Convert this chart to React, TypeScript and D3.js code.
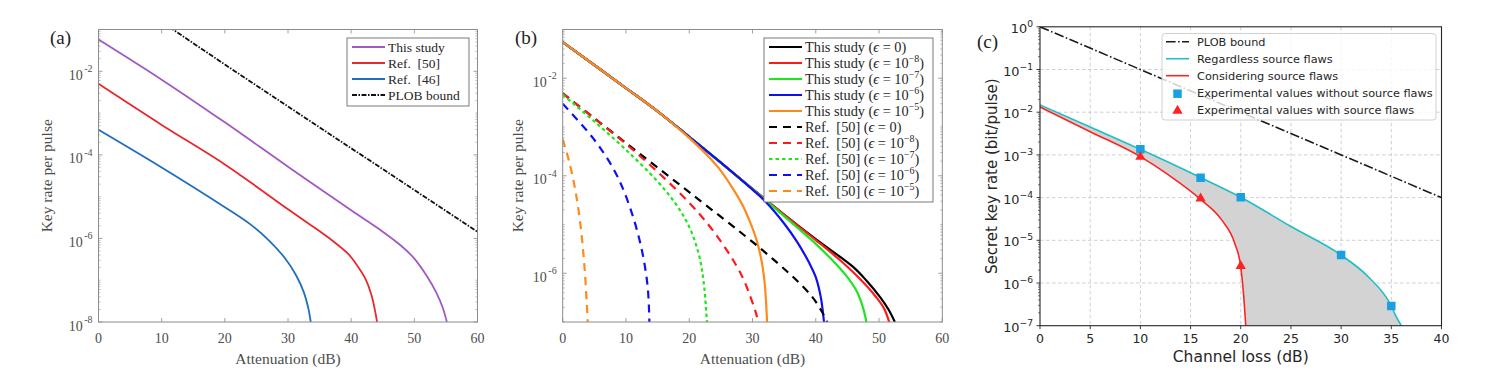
import React from "react";
import * as d3 from "d3";

type Pt = [number, number];

// ---------- (a) key rate per pulse vs attenuation ----------
const aThisStudy: Pt[] = [[0, 5.75e-2], [10, 6.3e-3], [20, 6.0e-4], [30, 5.2e-5], [40, 4.7e-6], [45, 1.45e-6], [48, 6.5e-7], [50, 3.3e-7], [52, 1.25e-7], [53.5, 5.0e-8], [54.5, 2.2e-8], [55.15, 1e-8]];
const aRef50: Pt[] = [[0, 5.0e-3], [10, 5.2e-4], [20, 5.9e-5], [30, 5.0e-6], [34, 1.9e-6], [37, 8.9e-7], [39.5, 4.3e-7], [41, 2.2e-7], [42.3, 1.05e-7], [43.2, 4.5e-8], [43.8, 1.8e-8], [44.1, 1e-8]];
const aRef46: Pt[] = [[0, 4.0e-4], [10, 5.0e-5], [20, 5.6e-6], [24, 2.2e-6], [27, 8.9e-7], [29.5, 3.4e-7], [31.3, 1.3e-7], [32.5, 5.2e-8], [33.2, 2.2e-8], [33.6, 1e-8]];
const aPlob: Pt[] = [[10, 1.52e-1], [20, 1.45e-2], [30, 1.44e-3], [40, 1.44e-4], [50, 1.44e-5], [60, 1.44e-6]];
const aLegend = ["This study", "Ref.\u2002[50]", "Ref.\u2002[46]", "PLOB bound"];

// ---------- (b) This study vs Ref. [50] for several epsilon ----------
const bStudyE0: Pt[] = [[0, 5.5e-2], [10, 6.3e-3], [15, 2.1e-3], [20, 6.3e-4], [25, 1.86e-4], [30, 5.4e-5], [35, 1.6e-5], [40, 5.0e-6], [45.9, 1.35e-6], [48, 7.1e-7], [50.2, 3.2e-7], [51.5, 1.8e-7], [52.5, 1e-7]];
const bStudyE8: Pt[] = [[0, 5.5e-2], [10, 6.3e-3], [15, 2.1e-3], [20, 6.3e-4], [25, 1.86e-4], [30, 5.4e-5], [35, 1.58e-5], [40, 4.8e-6], [44, 1.78e-6], [47, 7.6e-7], [49.5, 3.3e-7], [50.8, 1.9e-7], [51.6, 1e-7]];
const bStudyE7: Pt[] = [[0, 5.5e-2], [10, 6.3e-3], [15, 2.1e-3], [20, 6.3e-4], [25, 1.86e-4], [30, 5.3e-5], [32, 3.2e-5], [35, 1.48e-5], [40, 4.0e-6], [43.3, 1.5e-6], [45, 8.3e-7], [46.5, 4.2e-7], [47.5, 1.9e-7], [48, 1e-7]];
const bStudyE6: Pt[] = [[0, 5.5e-2], [10, 6.3e-3], [15, 2.1e-3], [20, 6.3e-4], [25, 1.86e-4], [30, 5.2e-5], [32, 3.0e-5], [35, 1.05e-5], [37, 4.5e-6], [39, 1.6e-6], [40, 8.3e-7], [40.8, 3.2e-7], [41.3, 1e-7]];
const bStudyE5: Pt[] = [[0, 5.5e-2], [10, 6.3e-3], [15, 2.1e-3], [20, 6.0e-4], [23, 2.5e-4], [25, 1.26e-4], [27, 5.2e-5], [28.5, 2.4e-5], [29.7, 1.05e-5], [30.6, 5.0e-6], [31.3, 2.2e-6], [31.8, 8.9e-7], [32.1, 3.2e-7], [32.3, 1e-7]];
const bRefE0: Pt[] = [[0, 4.9e-3], [10, 4.7e-4], [20, 4.6e-5], [30, 4.4e-6], [34, 1.6e-6], [37, 7.1e-7], [39.5, 3.2e-7], [41, 1.6e-7], [41.8, 1e-7]];
const bRefE8: Pt[] = [[0, 4.9e-3], [5, 1.5e-3], [10, 4.5e-4], [15, 1.2e-4], [20, 2.8e-5], [23, 1.0e-5], [25, 4.5e-6], [27, 1.8e-6], [28.5, 7.9e-7], [29.7, 3.2e-7], [30.5, 1.6e-7], [30.9, 1e-7]];
const bRefE7: Pt[] = [[0, 4.6e-3], [5, 1.3e-3], [10, 3.4e-4], [15, 7.6e-5], [18, 2.5e-5], [20, 8.9e-6], [21.5, 2.5e-6], [22.3, 6.3e-7], [22.8, 1e-7]];
const bRefE6: Pt[] = [[0, 3.0e-3], [4.8, 5.9e-4], [8, 1.4e-4], [10.1, 3.5e-5], [12.2, 4.5e-6], [13.4, 5.8e-7], [13.7, 1e-7]];
const bRefE5: Pt[] = [[0, 5.6e-4], [1, 2.0e-4], [2, 5.0e-5], [2.8, 1.0e-5], [3.4, 1.6e-6], [3.8, 2.5e-7], [3.95, 1e-7]];
const bEpsExps = [0, -8, -7, -6, -5];

// ---------- (c) secret key rate vs channel loss ----------
const cPlob: Pt[] = [[0, 1], [10, 1e-1], [20, 1e-2], [30, 1e-3], [40, 1e-4]];
const cRegardless: Pt[] = [[0, 1.48e-2], [5, 4.5e-3], [10, 1.35e-3], [16, 2.95e-4], [20, 1.02e-4], [25, 2.1e-5], [30, 4.5e-6], [32.7, 1.4e-6], [35, 2.9e-7], [35.5, 1.6e-7], [36.0, 1e-7]];
const cConsidering: Pt[] = [[0, 1.32e-2], [5, 3.5e-3], [10, 9.1e-4], [12.8, 3.4e-4], [16, 9.1e-5], [18.1, 3.0e-5], [19.4, 8.5e-6], [20, 2.4e-6], [20.3, 4.8e-7], [20.5, 1e-7]];
const cExpWithout: Pt[] = [[10, 1.35e-3], [16, 2.9e-4], [20, 1.02e-4], [30, 4.5e-6], [35, 2.9e-7]];
const cExpWith: Pt[] = [[10, 9.0e-4], [16, 9.5e-5], [20, 2.5e-6]];
const cLegend = ["PLOB bound", "Regardless source flaws", "Considering source flaws", "Experimental values without source flaws", "Experimental values with source flaws"];

const attTicks = [0, 10, 20, 30, 40, 50, 60];
const lossTicks = [0, 5, 10, 15, 20, 25, 30, 35, 40];

const serif = "'Liberation Serif', 'Times New Roman', serif";
const sans = "'DejaVu Sans', sans-serif";

interface Curve {
  pts: Pt[];
  color: string;
  width: number;
  dash?: string;
  straight?: boolean;
}

function minorLogTicks(lo: number, hi: number, major: number[]) {
  const out: number[] = [];
  for (let k = Math.floor(Math.log10(lo)); k <= Math.ceil(Math.log10(hi)); k++) {
    for (let m = 1; m <= 9; m++) {
      const v = m * Math.pow(10, k);
      if (v < lo * 0.999 || v > hi * 1.001) continue;
      if (m === 1 && major.includes(k)) continue;
      out.push(v);
    }
  }
  return out;
}

interface MatlabProps {
  id: string;
  left: number;
  right: number;
  top: number;
  bottom: number;
  yDomain: [number, number];
  yMajor: number[];
  curves: Curve[];
  legendX: number;
  legendW: number;
  legendFont: number;
  labels: React.ReactNode[];
  tag: string;
  tagX: number;
  yLabelX: number;
}

const MatlabPanel: React.FC<MatlabProps> = (p) => {
  const x = d3.scaleLinear().domain([0, 60]).range([p.left, p.right]);
  const y = d3.scaleLog().domain(p.yDomain).range([p.bottom, p.top]);
  const smooth = d3.line<Pt>().x((d) => x(d[0])).y((d) => y(d[1])).curve(d3.curveCatmullRom.alpha(0.5));
  const straight = d3.line<Pt>().x((d) => x(d[0])).y((d) => y(d[1]));
  const minors = minorLogTicks(p.yDomain[0], p.yDomain[1], p.yMajor);
  const frameC = "#8c8c8c";
  const textC = "#4d4d4d";
  const legTop = 38;
  const rowH = 16;
  const legH = p.labels.length * rowH + 4;

  return (
    <g>
      <defs>
        <clipPath id={p.id}>
          <rect x={p.left} y={p.top} width={p.right - p.left} height={p.bottom - p.top} />
        </clipPath>
      </defs>
      <rect x={p.left} y={p.top} width={p.right - p.left} height={p.bottom - p.top} fill="#fff" />
      <g clipPath={`url(#${p.id})`}>
        {p.curves.map((c, i) => (
          <path
            key={i}
            d={(c.straight ? straight : smooth)(c.pts) || ""}
            fill="none"
            stroke={c.color}
            strokeWidth={c.width}
            strokeDasharray={c.dash}
          />
        ))}
      </g>
      {/* ticks */}
      {attTicks.map((t) => (
        <g key={t} stroke={frameC} strokeWidth={0.8}>
          <line x1={x(t)} x2={x(t)} y1={p.bottom} y2={p.bottom - 4} />
          <line x1={x(t)} x2={x(t)} y1={p.top} y2={p.top + 4} />
        </g>
      ))}
      {p.yMajor.map((k) => (
        <g key={k} stroke={frameC} strokeWidth={0.8}>
          <line x1={p.left} x2={p.left + 4} y1={y(Math.pow(10, k))} y2={y(Math.pow(10, k))} />
          <line x1={p.right} x2={p.right - 4} y1={y(Math.pow(10, k))} y2={y(Math.pow(10, k))} />
        </g>
      ))}
      {minors.map((v, i) => (
        <g key={i} stroke={frameC} strokeWidth={0.6}>
          <line x1={p.left} x2={p.left + 2} y1={y(v)} y2={y(v)} />
          <line x1={p.right} x2={p.right - 2} y1={y(v)} y2={y(v)} />
        </g>
      ))}
      <rect x={p.left} y={p.top} width={p.right - p.left} height={p.bottom - p.top} fill="none" stroke={frameC} strokeWidth={1} />
      {/* tick labels */}
      <g fontFamily={serif} fill={textC}>
        {attTicks.map((t) => (
          <text key={t} x={x(t)} y={p.bottom + 21} textAnchor="middle" fontSize={14}>
            {t}
          </text>
        ))}
        {p.yMajor.map((k) => (
          <text key={k} x={p.left - 6} y={y(Math.pow(10, k)) + 8.5} textAnchor="end" fontSize={14}>
            10
            <tspan dx={1.5} dy={-7.5} fontSize={10}>{`-${-k}`}</tspan>
          </text>
        ))}
        <text x={(p.left + p.right) / 2} y={p.bottom + 42} textAnchor="middle" fontSize={15.5}>
          Attenuation (dB)
        </text>
        <text transform={`translate(${p.yLabelX},${(p.top + p.bottom) / 2}) rotate(-90)`} textAnchor="middle" fontSize={15.5}>
          Key rate per pulse
        </text>
        <text x={p.tagX} y={44} fontSize={19} fill="#222">
          {p.tag}
        </text>
      </g>
      {/* legend */}
      <rect x={p.legendX} y={legTop} width={p.legendW} height={legH} fill="#fff" stroke="#7a7a7a" strokeWidth={1} />
      {p.labels.map((lab, i) => {
        const c = p.curves[i];
        const ly = legTop + 9 + i * rowH;
        return (
          <g key={i}>
            <line x1={p.legendX + 5} x2={p.legendX + 38} y1={ly} y2={ly} stroke={c.color} strokeWidth={c.width} strokeDasharray={c.dash} />
            <text x={p.legendX + 41} y={ly + 4.5} fontFamily={serif} fontSize={p.legendFont} fill="#262626">
              {lab}
            </text>
          </g>
        );
      })}
    </g>
  );
};

const epsLabel = (prefix: string, k: number) =>
  k === 0 ? (
    <>
      {prefix} (<tspan fontStyle="italic">ϵ</tspan> = 0)
    </>
  ) : (
    <>
      {prefix} (<tspan fontStyle="italic">ϵ</tspan> = 10
      <tspan dy={-6} fontSize={10}>{`−${-k}`}</tspan>
      <tspan dy={6}>)</tspan>
    </>
  );

const PanelA = () => {
  const curves: Curve[] = [
    { pts: aThisStudy, color: "#a05ac2", width: 1.8 },
    { pts: aRef50, color: "#e8282c", width: 1.8 },
    { pts: aRef46, color: "#1f6fbf", width: 1.8 },
    { pts: aPlob, color: "#111", width: 1.8, dash: "5,1.5,1.5,1.5", straight: true },
  ];
  return (
    <MatlabPanel
      id="clipA"
      left={98.5}
      right={477.5}
      top={29.5}
      bottom={322}
      yDomain={[1e-8, 1e-1]}
      yMajor={[-8, -6, -4, -2]}
      curves={curves}
      legendX={347}
      legendW={122}
      legendFont={13.5}
      labels={aLegend}
      tag="(a)"
      tagX={50}
      yLabelX={52}
    />
  );
};

const PanelB = () => {
  const colors = ["#000000", "#ff1a1a", "#1ee61e", "#1010f0", "#ff8a1c"];
  const solid = [bStudyE0, bStudyE8, bStudyE7, bStudyE6, bStudyE5];
  const dashed = [bRefE0, bRefE8, bRefE7, bRefE6, bRefE5];
  const curves: Curve[] = [
    ...solid.map((pts, i) => ({ pts, color: colors[i], width: 2.2 })),
    ...dashed.map((pts, i) => ({ pts, color: colors[i], width: 2.2, dash: i === 2 ? "3.5,3" : "8,6" })),
  ];
  const labels = [
    ...bEpsExps.map((k) => epsLabel("This study", k)),
    ...bEpsExps.map((k) => epsLabel("Ref.\u2002[50]", k)),
  ];
  return (
    <MatlabPanel
      id="clipB"
      left={562.7}
      right={942.3}
      top={29.5}
      bottom={322}
      yDomain={[1e-7, 1e-1]}
      yMajor={[-6, -4, -2]}
      curves={curves}
      legendX={764}
      legendW={169}
      legendFont={14.3}
      labels={labels}
      tag="(b)"
      tagX={515}
      yLabelX={522.5}
    />
  );
};

const PanelC = () => {
  const left = 1040;
  const right = 1441.5;
  const top = 26.8;
  const bottom = 325.7;
  const x = d3.scaleLinear().domain([0, 40]).range([left, right]);
  const y = d3.scaleLog().domain([1e-7, 1]).range([bottom, top]);
  const smooth = d3.line<Pt>().x((d) => x(d[0])).y((d) => y(d[1])).curve(d3.curveMonotoneX);
  const straight = d3.line<Pt>().x((d) => x(d[0])).y((d) => y(d[1]));
  const yExps = [0, -1, -2, -3, -4, -5, -6, -7];
  const minors = minorLogTicks(1e-7, 1, yExps);
  const cyan = "#1cbfc6";
  const red = "#f22";
  const sq = "#1a9fe3";
  const square = d3.symbol().type(d3.symbolSquare).size(72)();
  const tri = d3.symbol().type(d3.symbolTriangle).size(46)();
  const upper = smooth(cRegardless) || "";
  const lower = smooth([...cConsidering].reverse()) || "";
  const fillPath = upper + "L" + lower.slice(1) + "Z";
  const legX = 1162;
  const legY = 33.5;
  const rowH = 17;

  return (
    <g fontFamily={sans}>
      <defs>
        <clipPath id="clipC">
          <rect x={left} y={top} width={right - left} height={bottom - top} />
        </clipPath>
      </defs>
      {/* grid */}
      <g stroke="#c4c4c4" strokeWidth={0.8} strokeDasharray="3.5,2.5">
        {lossTicks.slice(1, -1).map((t) => (
          <line key={t} x1={x(t)} x2={x(t)} y1={top} y2={bottom} />
        ))}
        {yExps.slice(1, -1).map((k) => (
          <line key={k} x1={left} x2={right} y1={y(Math.pow(10, k))} y2={y(Math.pow(10, k))} />
        ))}
      </g>
      <g clipPath="url(#clipC)">
        <path d={fillPath} fill="#d3d3d3" />
        <path d={straight(cPlob) || ""} fill="none" stroke="#1a1a1a" strokeWidth={1.6} strokeDasharray="9.6,2.4,1.6,2.4" />
        <path d={smooth(cRegardless) || ""} fill="none" stroke={cyan} strokeWidth={1.6} />
        <path d={smooth(cConsidering) || ""} fill="none" stroke={red} strokeWidth={1.6} />
        {cExpWithout.map((d, i) => (
          <path key={i} d={square || ""} transform={`translate(${x(d[0])},${y(d[1])})`} fill={sq} />
        ))}
        {cExpWith.map((d, i) => (
          <path key={i} d={tri || ""} transform={`translate(${x(d[0])},${y(d[1])})`} fill={red} />
        ))}
      </g>
      {/* spines and ticks */}
      <rect x={left} y={top} width={right - left} height={bottom - top} fill="none" stroke="#262626" strokeWidth={1.1} />
      <g stroke="#262626" strokeWidth={0.9}>
        {lossTicks.map((t) => (
          <line key={t} x1={x(t)} x2={x(t)} y1={bottom} y2={bottom + 3.5} />
        ))}
        {yExps.map((k) => (
          <line key={k} x1={left} x2={left - 3.5} y1={y(Math.pow(10, k))} y2={y(Math.pow(10, k))} />
        ))}
        {minors.map((v, i) => (
          <line key={i} x1={left} x2={left - 2} y1={y(v)} y2={y(v)} strokeWidth={0.6} />
        ))}
      </g>
      <g fill="#262626">
        {lossTicks.map((t) => (
          <text key={t} x={x(t)} y={bottom + 17} textAnchor="middle" fontSize={12.5}>
            {t}
          </text>
        ))}
        {yExps.map((k) => (
          <text key={k} x={left - 7} y={y(Math.pow(10, k)) + 6} textAnchor="end" fontSize={12.8}>
            10
            <tspan dy={-6} fontSize={9.2}>{k === 0 ? "0" : `−${-k}`}</tspan>
          </text>
        ))}
        <text x={(left + right) / 2} y={bottom + 36} textAnchor="middle" fontSize={15.5}>
          Channel loss (dB)
        </text>
        <text transform={`translate(997,${(top + bottom) / 2}) rotate(-90)`} textAnchor="middle" fontSize={15}>
          Secret key rate (bit/pulse)
        </text>
        <text x={977} y={48} fontSize={19} fontFamily={serif} fill="#222">
          (c)
        </text>
      </g>
      {/* legend */}
      <rect x={legX} y={legY} width={274} height={86.5} rx={3} fill="#fff" fillOpacity={0.8} stroke="#cccccc" strokeWidth={0.9} />
      {cLegend.map((lab, i) => {
        const ly = legY + 8.2 + i * rowH;
        const hx = legX + 4;
        return (
          <g key={i}>
            {i === 0 && <line x1={hx} x2={hx + 23} y1={ly} y2={ly} stroke="#1a1a1a" strokeWidth={1.6} strokeDasharray="9.6,2.4,1.6,2.4" />}
            {i === 1 && <line x1={hx} x2={hx + 23} y1={ly} y2={ly} stroke={cyan} strokeWidth={1.6} />}
            {i === 2 && <line x1={hx} x2={hx + 23} y1={ly} y2={ly} stroke={red} strokeWidth={1.6} />}
            {i === 3 && <path d={square || ""} transform={`translate(${hx + 11.5},${ly + 1})`} fill={sq} />}
            {i === 4 && <path d={tri || ""} transform={`translate(${hx + 11.5},${ly + 1})`} fill={red} />}
            <text x={legX + 35} y={ly + 4} fontSize={11.3} fill="#262626">
              {lab}
            </text>
          </g>
        );
      })}
    </g>
  );
};

export default function App() {
  return (
    <svg width={1489} height={385} style={{ position: "absolute", left: 0, top: 0, background: "#fff" }}>
      <rect width={1489} height={385} fill="#fff" />
      <PanelA />
      <PanelB />
      <PanelC />
    </svg>
  );
}
